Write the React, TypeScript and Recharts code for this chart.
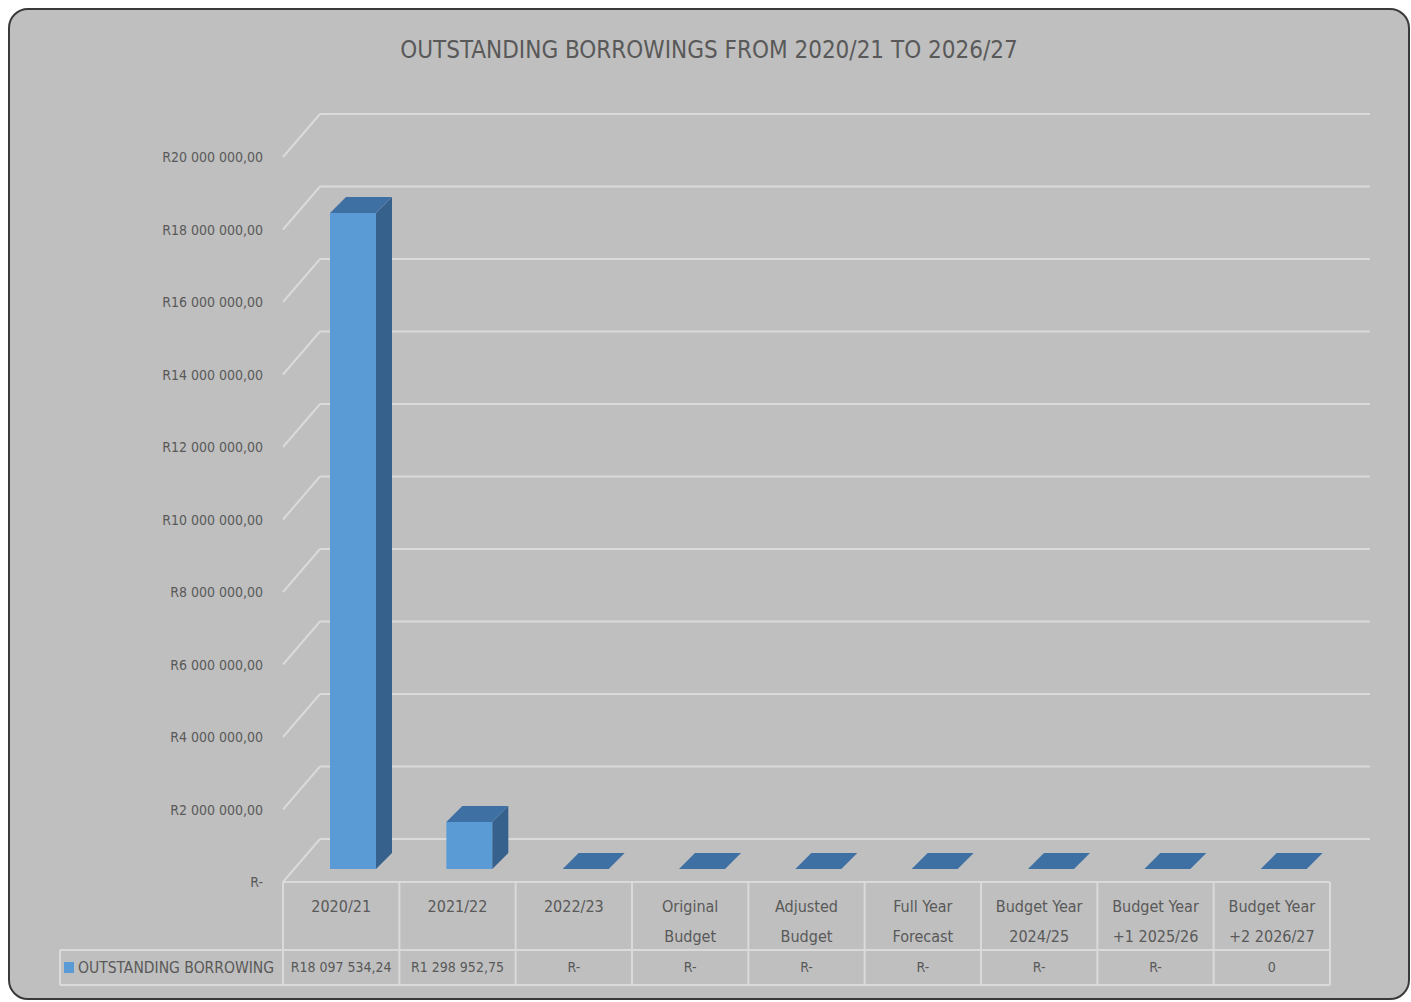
import { BarChart, Bar, XAxis, YAxis, CartesianGrid } from "recharts";

const categories = [
  "2020/21",
  "2021/22",
  "2022/23",
  "Original\nBudget",
  "Adjusted\nBudget",
  "Full Year\nForecast",
  "Budget Year\n2024/25",
  "Budget Year\n+1 2025/26",
  "Budget Year\n+2 2026/27",
];
const borrowing = [18097534.24, 1298952.75, 0, 0, 0, 0, 0, 0, 0];
const tableLabels = ["R18 097 534,24", "R1 298 952,75", "R-", "R-", "R-", "R-", "R-", "R-", "0"];
const yTicks = [0, 2000000, 4000000, 6000000, 8000000, 10000000, 12000000, 14000000, 16000000, 18000000, 20000000];
const seriesName = "OUTSTANDING BORROWING";

const data = categories.map((c, i) => ({ category: c, value: borrowing[i] }));

const W = 1398;
const H = 988;
const PLOT_LEFT = 273;
const PLOT_RIGHT = 1320;
const BAND = (PLOT_RIGHT - PLOT_LEFT) / categories.length;
// depth of the back wall
const DEPTH_X = 37;
const DEPTH_Y = -43;
const FONT = '"DejaVu Sans Condensed", "DejaVu Sans", sans-serif';
const TEXT = "#595959";
const LINE = "#dadada";

const fmtY = (v: number) => {
  if (v === 0) return "R-";
  return "R" + String(Math.round(v)).replace(/\B(?=(\d{3})+(?!\d))/g, " ") + ",00";
};

function GridLine(props: any) {
  const { y1, index } = props;
  return (
    <g key={`g-${index}`}>
      <line x1={PLOT_LEFT} y1={y1} x2={PLOT_LEFT + DEPTH_X} y2={y1 + DEPTH_Y} stroke={LINE} strokeWidth={2} />
      <line x1={PLOT_LEFT + DEPTH_X} y1={y1 + DEPTH_Y} x2={PLOT_RIGHT + 40} y2={y1 + DEPTH_Y} stroke={LINE} strokeWidth={2} />
    </g>
  );
}

function YTick({ x, y, payload }: any) {
  return (
    <text x={x - 20} y={y + 5} textAnchor="end" fontFamily={FONT} fontSize={14} fill={TEXT}>
      {fmtY(payload.value)}
    </text>
  );
}

function XTick({ x, y, payload }: any) {
  const i = payload.index;
  const lines = String(payload.value).split("\n");
  const left = x - BAND / 2;
  const right = x + BAND / 2;
  return (
    <g>
      {i === 0 && (
        <g>
          <line x1={PLOT_LEFT} y1={y} x2={PLOT_RIGHT} y2={y} stroke={LINE} strokeWidth={2} />
          <line x1={50} y1={y + 68} x2={PLOT_RIGHT} y2={y + 68} stroke={LINE} strokeWidth={2} />
          <line x1={50} y1={y + 103} x2={PLOT_RIGHT} y2={y + 103} stroke={LINE} strokeWidth={2} />
          <line x1={50} y1={y + 68} x2={50} y2={y + 103} stroke={LINE} strokeWidth={2} />
          <line x1={left} y1={y} x2={left} y2={y + 103} stroke={LINE} strokeWidth={2} />
          <rect x={54} y={y + 80} width={10} height={11} fill="#5b9bd5" />
          <text x={68} y={y + 91} fontFamily={FONT} fontSize={15.5} fill={TEXT}>{seriesName}</text>
        </g>
      )}
      <line x1={right} y1={y} x2={right} y2={y + 103} stroke={LINE} strokeWidth={2} />
      {lines.map((t, k) => (
        <text key={k} x={x} y={y + 30 + k * 30} textAnchor="middle" fontFamily={FONT} fontSize={16} fill={TEXT}>
          {t}
        </text>
      ))}
      <text x={x} y={y + 90} textAnchor="middle" fontFamily={FONT} fontSize={14} fill={TEXT}>
        {tableLabels[i]}
      </text>
    </g>
  );
}

function Bar3D(props: any) {
  const { x, y, width, height } = props;
  const ox = 12;
  const oy = -13;
  const dx = 16;
  const dy = -16;
  const fx = x + ox;
  const fy = y + oy;
  const h = Math.max(height, 0);
  return (
    <g>
      {h > 0 && <rect x={fx} y={fy} width={width} height={h} fill="#5b9bd5" />}
      {h > 0 && (
        <polygon
          points={`${fx + width},${fy} ${fx + width + dx},${fy + dy} ${fx + width + dx},${fy + h + dy} ${fx + width},${fy + h}`}
          fill="#36618c"
        />
      )}
      <polygon
        points={`${fx},${fy} ${fx + dx},${fy + dy} ${fx + width + dx},${fy + dy} ${fx + width},${fy}`}
        fill="#3e70a3"
      />
    </g>
  );
}

export default function App() {
  return (
    <div
      style={{
        position: "absolute",
        top: 8,
        left: 8,
        width: W,
        height: H,
        border: "2px solid #3a3a3a",
        borderRadius: 20,
        background: "#bfbfbf",
        overflow: "hidden",
      }}
    >
      <div
        style={{
          position: "absolute",
          top: 26,
          left: 0,
          width: "100%",
          textAlign: "center",
          fontFamily: FONT,
          fontSize: 24,
          color: TEXT,
        }}
      >
        OUTSTANDING BORROWINGS FROM 2020/21 TO 2026/27
      </div>
      <BarChart width={W} height={H} data={data} margin={{ top: 147, right: W - PLOT_RIGHT, left: 73, bottom: 6 }}>
        <CartesianGrid vertical={false} horizontal={(p: any) => <GridLine {...p} />} />
        <XAxis
          dataKey="category"
          interval={0}
          height={110}
          axisLine={false}
          tickLine={false}
          tickSize={0}
          tickMargin={0}
          tick={<XTick />}
        />
        <YAxis
          width={200}
          domain={[0, 20000000]}
          ticks={yTicks}
          axisLine={false}
          tickLine={false}
          tickSize={0}
          tickMargin={0}
          tick={<YTick />}
        />
        <Bar dataKey="value" barSize={46} shape={<Bar3D />} isAnimationActive={false} />
      </BarChart>
    </div>
  );
}
